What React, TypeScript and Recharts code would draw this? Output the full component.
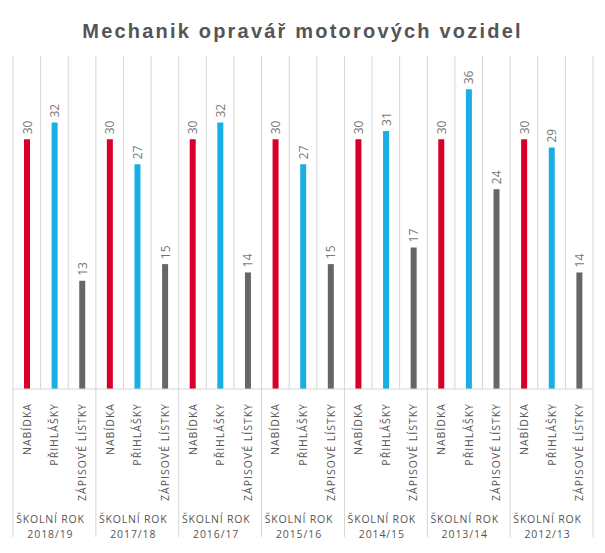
import React from 'react';
import { BarChart, Bar, XAxis, YAxis, CartesianGrid, Cell, LabelList } from 'recharts';

const years = ['2018/19', '2017/18', '2016/17', '2015/16', '2014/15', '2013/14', '2012/13'];
const nabidka = [30, 30, 30, 30, 30, 30, 30];
const prihlasky = [32, 27, 32, 27, 31, 36, 29];
const zapisove = [13, 15, 14, 15, 17, 24, 14];
const categoryLabels = ['NABÍDKA', 'PŘIHLÁŠKY', 'ZÁPISOVÉ LÍSTKY'];
const seriesColors = ['#d8002a', '#1aafe3', '#666666'];
const groupPrefix = 'ŠKOLNÍ ROK';

const W = 605;
const H = 553;
const M = { top: 56, right: 12, left: 13, bottom: 0 };
const PLOT_W = W - M.left - M.right;
const N = years.length * 3;
const STEP = PLOT_W / N;

const data = years.flatMap((year, i) =>
  [nabidka[i], prihlasky[i], zapisove[i]].map((value, k) => ({
    key: `${i}-${k}`,
    year,
    type: k,
    value,
  }))
);

const FONT = '"Open Sans", "Liberation Sans", Arial, sans-serif';

const Tick = (props: any) => {
  const { x, y, index } = props;
  const d = data[index];
  if (!d) return null;
  const isFirst = d.type === 0;
  const isLast = index === data.length - 1;
  return (
    <g>
      <text
        transform={`translate(${x},${y + 14}) rotate(-90)`}
        textAnchor="end"
        dominantBaseline="central"
        fontSize={10.5}
        letterSpacing={1.0}
        fill="#555"
        fontFamily={FONT}
      >
        {categoryLabels[d.type]}
      </text>
      {isFirst && (
        <line x1={x - STEP / 2} x2={x - STEP / 2} y1={y} y2={y + 148} stroke="#d6d6d6" strokeWidth={1} />
      )}
      {isLast && (
        <line x1={x + STEP / 2} x2={x + STEP / 2} y1={y} y2={y + 148} stroke="#d6d6d6" strokeWidth={1} />
      )}
      {d.type === 1 && (
        <g>
          <text x={x - 4} y={y + 134} textAnchor="middle" fontSize={10.5} letterSpacing={0.8} fill="#555" fontFamily={FONT}>
            {groupPrefix}
          </text>
          <text x={x - 4} y={y + 148.5} textAnchor="middle" fontSize={10.5} letterSpacing={0.9} fill="#555" fontFamily={FONT}>
            {d.year}
          </text>
        </g>
      )}
    </g>
  );
};

const ValueLabel = (props: any) => {
  const { x, y, width, value } = props;
  return (
    <text
      transform={`translate(${x + width / 2},${y - 5}) rotate(-90)`}
      textAnchor="start"
      dominantBaseline="central"
      fontSize={12}
      fill="#777"
      fontFamily={FONT}
    >
      {value}
    </text>
  );
};

export default function App() {
  return (
    <div style={{ position: 'absolute', left: 0, top: 0, width: W, height: H, background: '#fff' }}>
      <div
        style={{
          position: 'absolute',
          left: 0,
          top: 20,
          width: W,
          textAlign: 'center',
          fontFamily: '"Liberation Sans", Arial, sans-serif',
          fontWeight: 'bold',
          fontSize: 20,
          letterSpacing: 2.2,
          color: '#555',
        }}
      >
        Mechanik opravář motorových vozidel
      </div>
      <BarChart width={W} height={H} data={data} margin={M} barCategoryGap={0}>
        <CartesianGrid
          horizontal={false}
          stroke="#d6d6d6"
          verticalCoordinatesGenerator={(p: any) => {
            const off = p.offset;
            const arr: number[] = [];
            for (let j = 0; j <= N; j++) arr.push(off.left + (j * off.width) / N);
            return arr;
          }}
        />
        <XAxis
          dataKey="key"
          interval={0}
          height={H - 389 - M.bottom}
          tickLine={false}
          tickSize={0}
          tickMargin={0}
          axisLine={{ stroke: '#d6d6d6' }}
          tick={<Tick />}
        />
        <YAxis hide domain={[0, 40]} />
        <Bar dataKey="value" barSize={6} isAnimationActive={false}>
          {data.map((d) => (
            <Cell key={d.key} fill={seriesColors[d.type]} />
          ))}
          <LabelList dataKey="value" content={<ValueLabel />} />
        </Bar>
      </BarChart>
    </div>
  );
}
